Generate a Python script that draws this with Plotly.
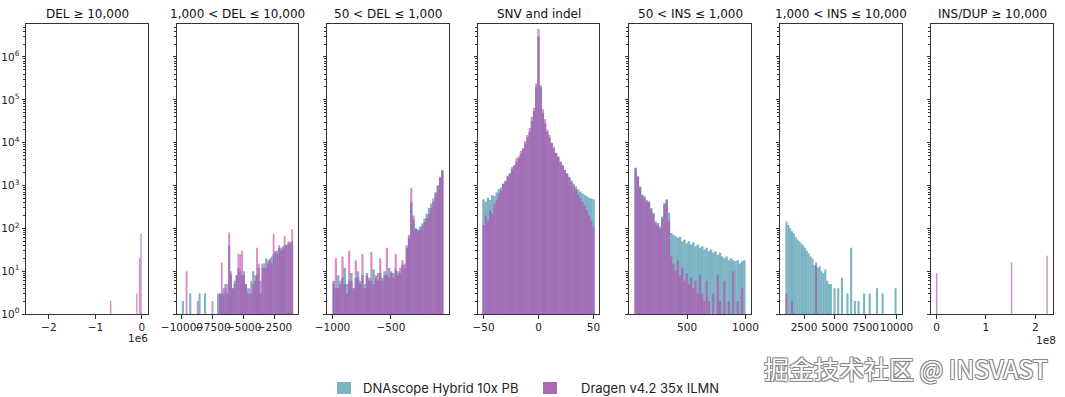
import plotly.graph_objects as go

# ---------------- data ----------------
titles = ["DEL \u2265 10,000", "1,000 < DEL \u2264 10,000", "50 < DEL \u2264 1,000",
          "SNV and indel", "50 < INS \u2264 1,000", "1,000 < INS \u2264 10,000",
          "INS/DUP \u2265 10,000"]
series_names = ["DNAscope Hybrid 10x PB", "Dragen v4.2 35x ILMN"]

# Panel 1: DEL >= 10,000 (sparse bins, value = bin centre)
p1_x = [-670000, -110000, -50000, -20000]
p1_dna = [0, 0, 0, 0]
p1_drg = [2, 3, 20, 75]

# Panel 2: 1,000 < DEL <= 10,000, bins of 150 starting at -10000
p2_start, p2_w = -10000, 150
p2_dna = [2, 0, 0, 0, 3, 0, 0, 0, 0, 3, 0, 0, 3, 0, 0, 0, 0, 0, 1, 3,
          3, 3, 4, 5, 3, 40, 8, 4, 6, 8, 12, 10, 8, 10, 5, 4, 3, 6, 10, 6,
          8, 12, 3, 15, 12, 20, 15, 18, 22, 25, 28, 30, 35, 30, 38, 40, 42, 45, 48, 50]
p2_drg = [0, 0, 10, 0, 0, 0, 0, 0, 2, 0, 0, 0, 0, 0, 0, 0, 2, 0, 0, 0,
          3, 16, 3, 4, 5, 80, 10, 4, 5, 8, 25, 25, 30, 8, 5, 3, 4, 3, 5, 8,
          35, 15, 6, 12, 15, 12, 18, 20, 15, 75, 30, 25, 40, 35, 32, 65, 40, 50, 45, 95]

# Panel 3: 50 < DEL <= 1,000, bins of 19 starting at -1000
p3_start, p3_w = -1000, 19
p3_dna = [6, 4, 8, 5, 7, 12, 5, 6, 9, 4, 7, 10, 6, 8, 5, 9, 7, 6, 11, 8,
          6, 9, 7, 10, 8, 12, 9, 7, 11, 10, 9, 14, 12, 40, 60, 400, 160, 100, 95, 110,
          130, 170, 220, 300, 380, 500, 700, 1000, 1500, 2200]
p3_drg = [5, 20, 4, 6, 22, 5, 3, 30, 6, 4, 18, 7, 5, 25, 4, 8, 6, 28, 5, 7,
          9, 20, 6, 8, 35, 7, 10, 9, 25, 8, 12, 18, 15, 35, 70, 870, 200, 95, 85, 90,
          110, 140, 170, 220, 300, 420, 650, 1000, 1600, 2300]

# Panel 4: SNV and indel, bins of 2 centred on -50..50
p4_start, p4_w = -51, 2
p4_dna = [480, 420, 520, 460, 600, 560, 700, 820, 900, 1100, 1300, 1600, 1900, 2400, 2900,
          3500, 4400, 5500, 7000, 9500, 13000, 18000, 32000, 55000, 200000, 3000000,
          200000, 50000, 28000, 18000, 13000, 9500, 7200, 5600, 4500, 3600, 2900, 2300,
          1900, 1600, 1300, 1100, 950, 820, 720, 650, 600, 560, 520, 500, 480]
p4_drg = [120, 200, 150, 260, 220, 380, 450, 650, 750, 1100, 1200, 1700, 1900, 2700, 3000,
          4300, 4800, 6500, 7500, 11000, 15000, 22000, 40000, 65000, 240000, 4500000,
          220000, 60000, 35000, 20000, 15000, 10000, 8000, 5800, 4800, 3600, 3000, 2300,
          1900, 1500, 1200, 950, 800, 620, 520, 420, 330, 260, 200, 150, 110]

# Panel 5: 50 < INS <= 1,000, bins of 19 starting at 50
p5_start, p5_w = 50, 19
p5_dna = [2600, 1650, 950, 610, 560, 460, 430, 300, 230, 145, 133, 110, 190, 390, 460, 230,
          78, 71, 65, 60, 63, 50, 54, 45, 50, 42, 47, 38, 42, 35, 38, 32, 35, 29, 32, 27,
          29, 24, 27, 22, 20, 22, 18, 20, 18, 17, 18, 15, 17, 18]
p5_drg = [2500, 1600, 900, 580, 520, 420, 400, 280, 210, 130, 120, 100, 170, 350, 480, 150,
          22, 15, 10, 18, 8, 12, 6, 9, 5, 7, 4, 6, 3, 8, 3, 2, 6, 2, 1, 3,
          1, 8, 2, 1, 6, 1, 2, 1, 10, 1, 2, 1, 4, 1]

# Panel 6: 1,000 < INS <= 10,000, bins of 150 starting at 1000
p6_start, p6_w = 1000, 150
p6_dna = [145, 120, 100, 85, 75, 62, 55, 50, 45, 40, 35, 30, 26, 22, 20, 14, 16, 12, 13, 10,
          9, 11, 6, 5, 5, 0, 4, 0, 4, 0, 7, 0, 0, 3, 0, 35, 0, 2, 0, 2,
          0, 0, 3, 0, 0, 3, 0, 0, 0, 4, 0, 0, 3, 0, 0, 0, 0, 0, 0, 4]
p6_drg = [3, 1, 0, 2, 1, 0, 0, 1, 0, 0, 1, 0, 0, 0, 0, 0, 13, 0, 0, 0,
          1, 0, 0, 0, 0, 0, 0, 0, 0, 0, 0, 0, 0, 0, 0, 0, 0, 0, 0, 0,
          0, 0, 0, 0, 0, 0, 0, 0, 0, 0, 0, 0, 0, 0, 0, 0, 0, 0, 0, 0]

# Panel 7: INS/DUP >= 10,000 (sparse bins)
p7_x = [300000, 152000000, 224000000]
p7_dna = [0, 0, 0]
p7_drg = [9, 16, 23]

# tick labels
x_tickvals = [[-2e6, -1e6, 0], [-10000, -7500, -5000, -2500], [-1000, -500], [-50, 0, 50],
              [500, 1000], [2500, 5000, 7500, 10000], [0, 1e8, 2e8]]
x_ticktext = [["\u22122", "\u22121", "0"], ["\u221210000", "\u22127500", "\u22125000", "\u22122500"],
              ["\u22121000", "\u2212500"], ["\u221250", "0", "50"], ["500", "1000"],
              ["2500", "5000", "7500", "10000"], ["0", "1", "2"]]
y_tickvals = [1, 10, 100, 1000, 10000, 100000, 1000000]
y_ticktext = ["10<sup>%d</sup>" % k for k in range(7)]

# ---------------- styling ----------------
BLUE = "rgb(124,180,196)"
PINK = "rgba(188,63,172,0.6)"
AX = "#333333"
W, H = 1065, 397
panel_px = [(26, 148), (177, 298), (327, 449), (478, 599), (629, 751), (780, 902), (931, 1053)]
x_ranges = [[-2.49e6, 0.13e6], [-10400, -600], [-1047.5, -2.5], [-55, 55],
            [2.5, 1047.5], [550, 10450], [-0.1125e8, 2.36e8]]
y_dom = [1 - 314 / H, 1 - 24 / H]


def binned(start, w, counts):
    centres = [start + w * (i + 0.5) for i in range(len(counts))]
    return centres


panels = [
    (p1_x, p1_dna, p1_drg, 30000),
    (binned(p2_start, p2_w, p2_dna), p2_dna, p2_drg, p2_w),
    (binned(p3_start, p3_w, p3_dna), p3_dna, p3_drg, p3_w),
    (binned(p4_start, p4_w, p4_dna), p4_dna, p4_drg, p4_w),
    (binned(p5_start, p5_w, p5_dna), p5_dna, p5_drg, p5_w),
    (binned(p6_start, p6_w, p6_dna), p6_dna, p6_drg, p6_w),
    (p7_x, p7_dna, p7_drg, 3000000),
]


def nz(v):
    return [c if c > 0 else None for c in v]


fig = go.Figure()
minor_vals = [m * 10 ** k for k in range(7) for m in range(2, 10)]

layout = dict(width=W, height=H, margin=dict(l=0, r=0, t=0, b=0, pad=0), autosize=False,
              barmode="overlay", plot_bgcolor="white", paper_bgcolor="white",
              showlegend=False, font=dict(family="DejaVu Sans", color="#222", size=10.5))
annotations = []
for i, (xs, dna, drg, w) in enumerate(panels):
    n = "" if i == 0 else str(i + 1)
    fig.add_trace(go.Bar(x=xs, y=nz(dna), width=w * 1.15, name=series_names[0],
                         marker=dict(color=BLUE, line=dict(width=0)),
                         xaxis="x" + n, yaxis="y" + n))
    fig.add_trace(go.Bar(x=xs, y=nz(drg), width=w, name=series_names[1],
                         marker=dict(color=PINK, line=dict(width=0)),
                         xaxis="x" + n, yaxis="y" + n))
    x0, x1 = panel_px[i]
    layout["xaxis" + n] = dict(domain=[x0 / W, x1 / W], range=x_ranges[i], anchor="y" + n,
                               tickvals=x_tickvals[i], ticktext=x_ticktext[i], tickangle=0,
                               automargin=False,
                               showline=True, mirror=True, linecolor=AX, linewidth=1,
                               ticks="outside", ticklen=3.5, tickcolor=AX,
                               showgrid=False, zeroline=False, tickfont=dict(size=10.5))
    layout["yaxis" + n] = dict(domain=y_dom, type="log", range=[0, 6.77], anchor="x" + n,
                               tickvals=y_tickvals, ticktext=y_ticktext,
                               showticklabels=(i == 0), automargin=False,
                               showline=True, mirror=True, linecolor=AX, linewidth=1,
                               ticks="outside", ticklen=3.5, tickcolor=AX,
                               minor=dict(tickmode="array", tickvals=minor_vals, ticks="outside",
                                          ticklen=2, tickcolor=AX, showgrid=False),
                               showgrid=False, zeroline=False, tickfont=dict(size=10.5))
    annotations.append(dict(text=titles[i], x=(x0 + x1) / 2 / W, y=1 - 14 / H,
                            xref="paper", yref="paper", showarrow=False,
                            xanchor="center", yanchor="middle",
                            font=dict(size=12, family="DejaVu Sans", color="#111")))

# offset labels
annotations.append(dict(text="1e6", x=138 / W, y=1 - 338 / H, xref="paper", yref="paper",
                        showarrow=False, xanchor="center", yanchor="middle",
                        font=dict(size=10.5, family="DejaVu Sans", color="#222")))
annotations.append(dict(text="1e8", x=1046 / W, y=1 - 340 / H, xref="paper", yref="paper",
                        showarrow=False, xanchor="center", yanchor="middle",
                        font=dict(size=10.5, family="DejaVu Sans", color="#222")))

# legend (manual)
shapes = []
leg = [(337, 351, 361, BLUE, series_names[0]), (543, 557, 579, "rgb(168,108,174)", series_names[1])]
for sx0, sx1, tx, col, txt in leg:
    shapes.append(dict(type="rect", xref="paper", yref="paper", x0=sx0 / W, x1=sx1 / W,
                       y0=1 - 394 / H, y1=1 - 382 / H, fillcolor=col, line=dict(width=0)))
    annotations.append(dict(text=txt, x=tx / W, y=1 - 388 / H, xref="paper", yref="paper",
                            showarrow=False, xanchor="left", yanchor="middle",
                            font=dict(size=13, family="Inter", color="#222")))

# watermark
annotations.append(dict(text="掘金技术社区 @ INSVAST", x=1050 / W, y=1 - 368 / H,
                        xref="paper", yref="paper", showarrow=False,
                        xanchor="right", yanchor="middle",
                        font=dict(size=25, family="Noto Sans CJK SC", color="white",
                                  shadow="-1px -1px 0 #888, 1px -1px 0 #888, -1px 1px 0 #888, 1px 1px 0 #888")))

layout["annotations"] = annotations
layout["shapes"] = shapes
fig.update_layout(**layout)
fig.write_html("out.html", config={"displayModeBar": False},
               post_script="document.body.style.margin='0';document.body.style.overflow='hidden';")
